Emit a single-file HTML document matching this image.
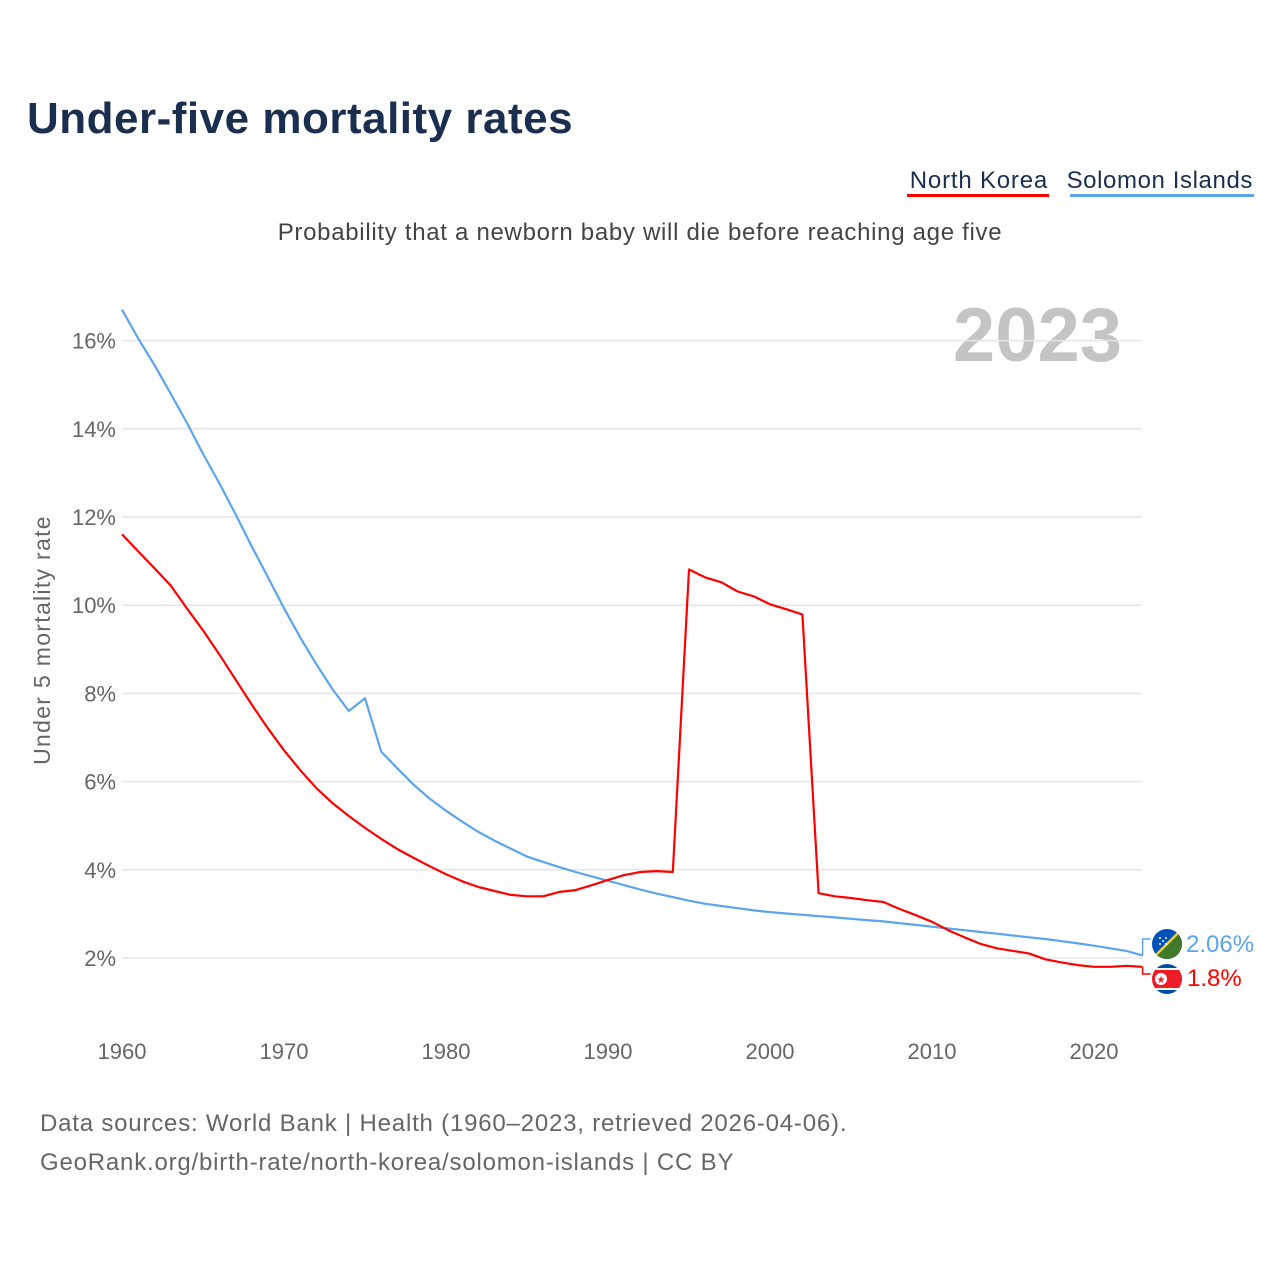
<!DOCTYPE html>
<html><head><meta charset="utf-8"><style>
body{margin:0;background:#fff;font-family:"Liberation Sans",sans-serif;}
svg{display:block}
</style></head><body>
<svg width="1280" height="1280" viewBox="0 0 1280 1280">
<text x="27" y="133" font-size="44" font-weight="bold" fill="#1a2e4f" letter-spacing="0.5">Under-five mortality rates</text>
<g>
<text x="1048" y="188" font-size="24" fill="#1a2e4f" text-anchor="end" letter-spacing="0.8">North Korea</text>
<rect x="907" y="194" width="142" height="3" fill="#ff0000"/>
<text x="1253" y="188" font-size="24" fill="#1a2e4f" text-anchor="end" letter-spacing="0.6">Solomon Islands</text>
<rect x="1070" y="194" width="184" height="3" fill="#5aa5ee"/>
</g>
<text x="640" y="240" font-size="24" fill="#444" text-anchor="middle" letter-spacing="0.7">Probability that a newborn baby will die before reaching age five</text>
<text x="1122" y="361" font-size="76" font-weight="bold" fill="#c4c4c4" text-anchor="end">2023</text>
<text transform="translate(50,640) rotate(-90)" font-size="23" fill="#666" text-anchor="middle" letter-spacing="1.3">Under 5 mortality rate</text>
<g id="grid"></g><g id="ylab"></g><g id="xlab"></g><g id="lines"></g><g id="ends"></g>
<text x="40" y="1131" font-size="24" fill="#666" letter-spacing="0.8">Data sources: World Bank | Health (1960–2023, retrieved 2026-04-06).</text>
<text x="40" y="1170" font-size="24" fill="#666" letter-spacing="0.8">GeoRank.org/birth-rate/north-korea/solomon-islands | CC BY</text>
</svg>
<script>
const years=[];for(let y=1960;y<=2023;y++)years.push(y);
const northKorea=[11.61,11.22,10.84,10.45,9.93,9.43,8.89,8.32,7.75,7.21,6.71,6.26,5.85,5.51,5.22,4.95,4.70,4.47,4.27,4.08,3.90,3.74,3.61,3.52,3.43,3.40,3.40,3.50,3.54,3.65,3.77,3.88,3.95,3.97,3.95,10.81,10.63,10.52,10.31,10.20,10.02,9.91,9.79,3.47,3.40,3.36,3.31,3.27,3.11,2.97,2.82,2.63,2.47,2.32,2.22,2.16,2.10,1.97,1.90,1.84,1.80,1.80,1.82,1.80];
const solomon=[16.7,16.05,15.45,14.8,14.14,13.43,12.77,12.07,11.34,10.64,9.93,9.27,8.66,8.09,7.6,7.89,6.68,6.3,5.93,5.61,5.34,5.09,4.86,4.66,4.48,4.3,4.18,4.06,3.95,3.85,3.75,3.65,3.55,3.46,3.38,3.3,3.23,3.18,3.13,3.08,3.04,3.01,2.98,2.95,2.92,2.89,2.86,2.83,2.79,2.75,2.71,2.67,2.63,2.59,2.55,2.51,2.47,2.43,2.38,2.33,2.28,2.22,2.16,2.06];
const yTicks=[2,4,6,8,10,12,14,16];
const xTicks=[1960,1970,1980,1990,2000,2010,2020];
const X=y=>122+(y-1960)*16.2;
const Y=v=>958-(v-2)*44.1;
const NS="http://www.w3.org/2000/svg";
function mk(tag,attrs,parent){const e=document.createElementNS(NS,tag);for(const k in attrs)e.setAttribute(k,attrs[k]);document.getElementById(parent).appendChild(e);return e;}
yTicks.forEach(t=>{
 const l=mk('line',{x1:122,x2:1142,y1:Y(t),y2:Y(t),stroke:'#e6e6e6','stroke-width':1.5},'grid');
 
 
 const tx=mk('text',{x:116,y:Y(t)+8,'font-size':22,fill:'#666','text-anchor':'end'},'ylab');
 tx.textContent=t+'%';
 
 
});
xTicks.forEach(t=>{
 const tx=mk('text',{x:X(t),y:1059,'font-size':22,fill:'#666','text-anchor':'middle'},'xlab');
 tx.textContent=t;
 
 
});
function line(vals,color,name){
 const d=vals.map((v,i)=>(i?'L':'M')+X(years[i]).toFixed(1)+' '+Y(v).toFixed(1)).join(' ');
 const p=mk('path',{d:d,fill:'none',stroke:color,'stroke-width':2.2,'stroke-linejoin':'round'},'lines');
 
 
}
line(solomon,'#5aa5ee','solomon-islands-line');
line(northKorea,'#ff0000','north-korea-line');
const lastS=solomon[solomon.length-1],lastN=northKorea[northKorea.length-1];
const ex=X(2023);
const sy=Y(lastS),ny=Y(lastN);
const sLab=943,nLab=978;
const c1=mk('path',{d:`M${ex} ${sy} L${ex} ${sLab-4} L${ex+8} ${sLab-4}`,fill:'none',stroke:'#5aa5ee','stroke-width':1.5},'ends');


const c2=mk('path',{d:`M${ex} ${ny} L${ex} ${nLab-4} L${ex+8} ${nLab-4}`,fill:'none',stroke:'#ff0000','stroke-width':1.5},'ends');


const f1=mk('g',{},'ends');


f1.innerHTML='<clipPath id="cs"><circle cx="1167" cy="944" r="15"/></clipPath><g clip-path="url(#cs)"><rect x="1150" y="927" width="34" height="34" fill="#0051ba"/><polygon points="1184,927 1184,961 1150,961" fill="#3f7a2a"/><line x1="1184" y1="927" x2="1150" y2="961" stroke="#fcd116" stroke-width="2.5"/><circle cx="1160" cy="938" r="1" fill="#fff"/><circle cx="1166" cy="938" r="1" fill="#fff"/><circle cx="1163" cy="941" r="1" fill="#fff"/><circle cx="1160" cy="944" r="1" fill="#fff"/><circle cx="1166" cy="944" r="1" fill="#fff"/></g>';
const f2=mk('g',{},'ends');


f2.innerHTML='<clipPath id="ck"><circle cx="1167" cy="979" r="15"/></clipPath><g clip-path="url(#ck)"><rect x="1150" y="962" width="34" height="34" fill="#024fa2"/><rect x="1150" y="968" width="34" height="22" fill="#fff"/><rect x="1150" y="970" width="34" height="18" fill="#ed1c27"/><circle cx="1161" cy="979" r="6" fill="#fff"/><text x="1161" y="983" font-size="10" fill="#ed1c27" text-anchor="middle">★</text></g>';
const t1=mk('text',{x:1186,y:952,'font-size':24,fill:'#5aa5ee'},'ends');
t1.textContent=lastS+'%';


const t2=mk('text',{x:1187,y:986,'font-size':24,fill:'#ff0000'},'ends');
t2.textContent='1.8%';


</script>
</body></html>
